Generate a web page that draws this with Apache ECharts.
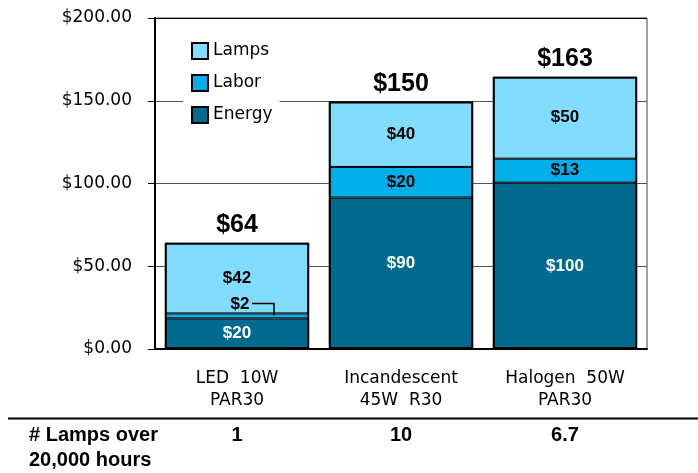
<!DOCTYPE html>
<html>
<head>
<meta charset="utf-8">
<script src="https://cdn.jsdelivr.net/npm/echarts@6/dist/echarts.min.js"></script>
<style>
  html, body { margin: 0; padding: 0; background: #fff; }
  #main { width: 698px; height: 473px; }
</style>
</head>
<body>
<div id="main"></div>
<script>
// ---- data ----
const categories = ['LED  10W\nPAR30', 'Incandescent\n45W  R30', 'Halogen  50W\nPAR30'];
const energy = [18.5, 91.5, 100.5];
const labor = [3, 18.5, 14.5];
const lamps = [42.7, 39.5, 49.5];
const energyLabels = ['$20', '$90', '$100'];
const laborLabels = ['$2', '$20', '$13'];
const lampsLabels = ['$42', '$40', '$50'];
const totalLabels = ['$64', '$150', '$163'];
const lampCounts = ['1', '10', '6.7'];
const rowTitle = '# Lamps over\n20,000 hours';

// ---- styles ----
const colEnergy = '#006b8f';
const colLabor = '#00aeea';
const colLamps = '#82dcfd';
const boldFont = 'Liberation Sans';
const regFont = 'DejaVu Sans';

const totals = energy.map((v, i) => v + labor[i] + lamps[i]);

const chart = echarts.init(document.getElementById('main'));

function segLabel(color) {
  return { show: true, position: 'inside', color: color, fontFamily: boldFont, fontWeight: 'bold', fontSize: 17 };
}

const option = {
  animation: false,
  grid: { left: 155, right: 51, top: 18, bottom: 124, show: true, borderColor: '#444', borderWidth: 1 },
  legend: {
    data: ['Lamps', 'Labor', 'Energy'],
    orient: 'vertical', left: 183, top: 34,
    padding: [8, 7, 8, 8], backgroundColor: '#fff',
    itemWidth: 16, itemHeight: 16, itemGap: 14, icon: 'rect', selectedMode: false,
    itemStyle: { borderColor: '#000', borderWidth: 2 },
    textStyle: { fontFamily: regFont, fontSize: 17, color: '#000' }
  },
  xAxis: [
    {
      type: 'category', data: categories,
      axisLine: { lineStyle: { color: '#000', width: 2 } },
      axisTick: { length: 6, lineStyle: { color: '#555' } },
      axisLabel: { color: '#000', fontFamily: regFont, fontSize: 17, lineHeight: 22, margin: 19, interval: 0 }
    },
    {
      type: 'category', data: categories, position: 'bottom', offset: 68,
      axisLine: { show: false }, axisTick: { show: false }, splitLine: { show: false },
      axisLabel: {
        margin: 6, interval: 0, formatter: (v, i) => lampCounts[i],
        fontFamily: boldFont, fontWeight: 'bold', fontSize: 20, lineHeight: 25, color: '#000'
      }
    }
  ],
  yAxis: {
    type: 'value', min: 0, max: 200, interval: 50,
    axisLine: { show: true, lineStyle: { color: '#000', width: 2 } },
    axisTick: { show: true, length: 7, lineStyle: { color: '#000' } },
    axisLabel: { formatter: v => '$' + v.toFixed(2), margin: 23, color: '#000', fontFamily: regFont, fontSize: 17 },
    splitLine: { lineStyle: { color: ['#555', '#555', '#555', '#555', '#000'], width: 1 } }
  },
  series: [
    {
      name: 'Energy', type: 'bar', stack: 'cost', barCategoryGap: '12%', barGap: '-100%',
      itemStyle: { color: colEnergy, borderColor: '#000', borderWidth: 1 },
      data: energy.map((v, i) => ({
        value: v,
        label: i === 1 ? { offset: [0, -10] } : {}
      })),
      label: Object.assign(segLabel('#fff'), { formatter: p => energyLabels[p.dataIndex] })
    },
    {
      name: 'Labor', type: 'bar', stack: 'cost', z: 3,
      itemStyle: { color: colLabor, borderColor: '#000', borderWidth: 1 },
      data: labor.map((v, i) => ({
        value: v,
        label: i === 0 ? { position: 'top', distance: 1, offset: [3, 0] } : {}
      })),
      label: Object.assign(segLabel('#000'), { formatter: p => laborLabels[p.dataIndex] })
    },
    {
      name: 'Lamps', type: 'bar', stack: 'cost',
      itemStyle: { color: colLamps, borderColor: '#000', borderWidth: 1 },
      data: lamps,
      label: Object.assign(segLabel('#000'), { formatter: p => lampsLabels[p.dataIndex] })
    },
    {
      name: 'Total', type: 'bar', silent: true, z: 4,
      itemStyle: { color: 'rgba(0,0,0,0)', borderColor: '#000', borderWidth: 2 },
      data: totals,
      label: {
        show: true, position: 'top', distance: 5, color: '#000',
        fontFamily: boldFont, fontWeight: 'bold', fontSize: 25,
        formatter: p => totalLabels[p.dataIndex]
      }
    }
  ]
};
chart.setOption(option);

// leader line for the small Labor label of the first bar, placed via the chart's scales
const laborTop = chart.convertToPixel({ gridIndex: 0 }, [0, energy[0] + labor[0]]);
const cx = laborTop[0], yTop = laborTop[1];
const yLab = yTop - 10;

chart.setOption({
  graphic: [
    {
      type: 'line', shape: { x1: 8, y1: 418.5, x2: 698, y2: 418.5 },
      style: { stroke: '#000', lineWidth: 2 }
    },
    {
      type: 'text', left: 29, top: 423,
      style: { text: rowTitle, fontFamily: boldFont, fontWeight: 'bold', fontSize: 20, lineHeight: 25, fill: '#000' }
    },
    {
      type: 'polyline', z: 10,
      shape: { points: [[cx + 15, yLab], [cx + 37, yLab], [cx + 37, yTop + 2]] },
      style: { stroke: '#000', lineWidth: 1.5, fill: null }
    }
  ]
});
</script>
</body>
</html>
